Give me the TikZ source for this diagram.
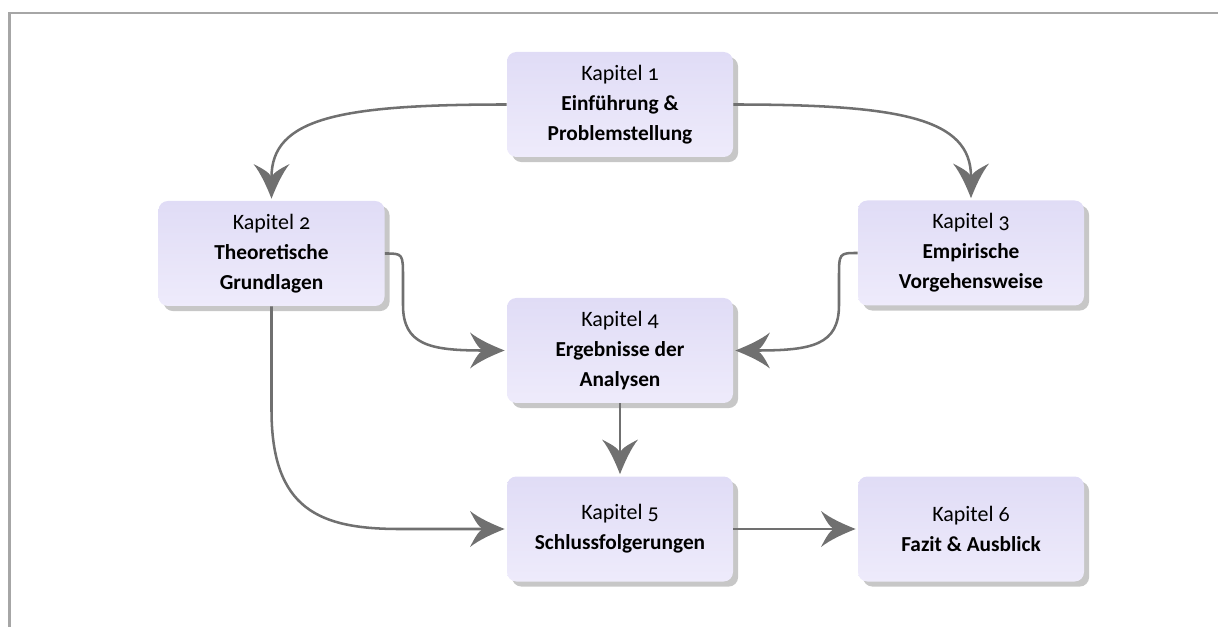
\documentclass[tikz,border=0pt]{standalone}
\usepackage{fontspec}
\setmainfont{Carlito}[Numbers=OldStyle]
\usetikzlibrary{arrows.meta,shadows}

\definecolor{framegray}{RGB}{166,166,166}
\definecolor{linkgray}{RGB}{112,112,112}
\definecolor{boxtop}{RGB}{224,220,246}
\definecolor{boxbottom}{RGB}{238,235,251}

% flared arrow tip with slightly concave flanks
\pgfdeclarearrow{
  name = Flare,
  setup code = {
    \pgfarrowssettipend{0pt}
    \pgfarrowssetbackend{-26pt}
    \pgfarrowssetlineend{-16pt}
    \pgfarrowshullpoint{0pt}{0pt}
    \pgfarrowsupperhullpoint{-26pt}{13.5pt}
  },
  drawing code = {
    \pgfpathmoveto{\pgfqpoint{0pt}{0pt}}
    \pgfpathcurveto{\pgfqpoint{-9pt}{3.5pt}}{\pgfqpoint{-19pt}{8pt}}{\pgfqpoint{-26pt}{13.5pt}}
    \pgfpathcurveto{\pgfqpoint{-23pt}{7.5pt}}{\pgfqpoint{-20pt}{2pt}}{\pgfqpoint{-16.5pt}{0pt}}
    \pgfpathcurveto{\pgfqpoint{-20pt}{-2pt}}{\pgfqpoint{-23pt}{-7.5pt}}{\pgfqpoint{-26pt}{-13.5pt}}
    \pgfpathcurveto{\pgfqpoint{-19pt}{-8pt}}{\pgfqpoint{-9pt}{-3.5pt}}{\pgfqpoint{0pt}{0pt}}
    \pgfpathclose
    \pgfusepathqfill
  }
}

\newcommand{\chapname}[1]{{\fontsize{16.5}{22.5}\selectfont #1}}
\newcommand{\chaptitle}[1]{{\fontsize{16}{22.5}\selectfont\bfseries #1}}

\tikzset{
  chapter/.style={
    rectangle, rounded corners=7pt,
    minimum width=169.5pt, minimum height=78.75pt,
    top color=boxtop, bottom color=boxbottom, draw=none,
    drop shadow={shadow xshift=3.8pt, shadow yshift=-3.8pt, fill=black!22, opacity=1},
    align=center, font=\fontsize{16}{22.5}\selectfont, text=black
  },
  link/.style={draw=linkgray, line width=1.9pt, -{Flare}, shorten >=1.5pt}
}

\begin{document}
\begin{tikzpicture}[x=0.75pt, y=-0.75pt]
  \useasboundingbox (0,0) rectangle (1218,627);

  % frame along the top and left side
  \draw[framegray, line width=2.2pt] (9.5,627) -- (9.5,13) -- (1218,13);

  % chapter boxes
  \node[chapter] (k1) at (620,104.5) {\chapname{Kapitel 1}\\\chaptitle{Einführung \&}\\\chaptitle{Problemstellung}};
  \node[chapter] (k2) at (271.5,253.5) {\chapname{Kapitel 2}\\\chaptitle{Theoretische}\\\chaptitle{Grundlagen}};
  \node[chapter] (k3) at (971,253) {\chapname{Kapitel 3}\\\chaptitle{Empirische}\\\chaptitle{Vorgehensweise}};
  \node[chapter] (k4) at (620,350.5) {\chapname{Kapitel 4}\\\chaptitle{Ergebnisse der}\\\chaptitle{Analysen}};
  \node[chapter] (k5) at (620,529) {\chapname{Kapitel 5}\\\chaptitle{Schlussfolgerungen}};
  \node[chapter] (k6) at (971,529) {\chapname{Kapitel 6}\\\chaptitle{Fazit \& Ausblick}};

  % connections between chapters
  \draw[link] (k1.west) .. controls (340,104.5) and (271.5,118) .. (k2.north);
  \draw[link] (k1.east) .. controls (900,104.5) and (971,118) .. (k3.north);
  \draw[link] (k2.east) .. controls (403,253.5) .. (403,278) -- (403,305)
              .. controls (403,345) and (430,350.5) .. (k4.west);
  \draw[link] (k3.west) .. controls (839,253) .. (839,278) -- (839,305)
              .. controls (839,345) and (812,350.5) .. (k4.east);
  \draw[link] (k4.south) -- (k5.north);
  \draw[link] (k2.south) -- (271.5,410) .. controls (271.5,510) and (320,529) .. (400,529) -- (k5.west);
  \draw[link] (k5.east) -- (k6.west);
\end{tikzpicture}
\end{document}
